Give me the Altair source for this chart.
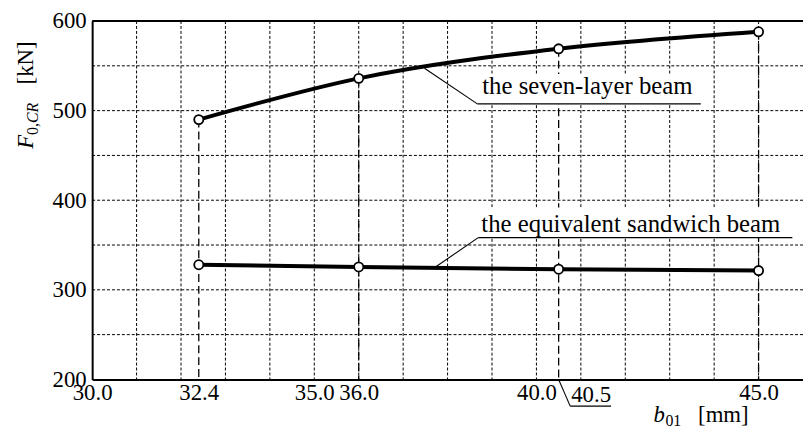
import altair as alt
import pandas as pd

# ---- data ----
b01 = [32.4, 36.0, 40.5, 45.0]
seven_layer = [490, 536, 569, 588]
sandwich = [328, 325.5, 323, 321.5]

x_ticks = [30.0, 32.4, 35.0, 36.0, 40.0, 45.0]
y_ticks = [200, 300, 400, 500, 600]
grid_x = [31, 32, 33, 34, 35, 36, 37, 38, 39, 40, 41, 42, 43, 44, 45]
grid_y = [250, 300, 350, 400, 450, 500, 550]

# annotation labels (data units)
ann_text = ["the seven-layer beam", "the equivalent sandwich beam"]
ann_text_x = [38.78, 38.76]
ann_text_y = [518, 365]
ann_box_x = [38.67, 38.69]
ann_box_x2 = [43.70, 45.76]
ann_box_y = [507.5, 358.3]
ann_box_y2 = [541, 392]
lead_x = [37.48, 37.72]
lead_y = [547.3, 325.2]

XMIN, XMAX, YMIN, YMAX = 30, 46, 200, 600
FONT = "'Liberation Serif', 'Times New Roman', 'DejaVu Serif', serif"

pts = pd.DataFrame({"b01": b01, "seven": seven_layer, "sandwich": sandwich})
long = pd.concat([
    pd.DataFrame({"b01": b01, "F": seven_layer, "beam": "seven"}),
    pd.DataFrame({"b01": b01, "F": sandwich, "beam": "sandwich"}),
])
ann = pd.DataFrame({"text": ann_text, "tx": ann_text_x, "ty": ann_text_y,
                    "bx": ann_box_x, "bx2": ann_box_x2, "by": ann_box_y, "by2": ann_box_y2,
                    "lx": lead_x, "ly": lead_y})

xs = alt.Scale(domain=[XMIN, XMAX], nice=False, zero=False)
ys = alt.Scale(domain=[YMIN, YMAX], nice=False, zero=False)

x_axis = alt.Axis(values=x_ticks, format=".1f", grid=False, ticks=False, tickSize=0,
                  domainWidth=2, domainColor="black", labelFont=FONT, labelFontSize=23,
                  labelColor="black", labelPadding=2, labelFlush=False, labelOverlap=False,
                  title=None)
y_axis = alt.Axis(values=y_ticks, format="d", grid=False, ticks=False, tickSize=0,
                  domainWidth=2, domainColor="black", labelFont=FONT, labelFontSize=23,
                  labelColor="black", labelPadding=6, labelBaseline="middle", title=None)

gx = alt.Chart(pd.DataFrame({"g": grid_x})).mark_rule(
    color="black", strokeWidth=1, strokeDash=[3, 2]).encode(
    x=alt.X("g:Q", scale=xs, axis=x_axis))
gy = alt.Chart(pd.DataFrame({"g": grid_y})).mark_rule(
    color="black", strokeWidth=1, strokeDash=[3, 2]).encode(
    y=alt.Y("g:Q", scale=ys, axis=y_axis))

drops = alt.Chart(pts).mark_rule(color="black", strokeWidth=1.3, strokeDash=[8, 4]).encode(
    x=alt.X("b01:Q", scale=xs), y=alt.Y("seven:Q", scale=ys), y2=alt.datum(YMIN))

boxes = alt.Chart(ann).mark_rect(color="white").encode(
    x=alt.X("bx:Q", scale=xs), x2="bx2:Q", y=alt.Y("by:Q", scale=ys), y2="by2:Q")

underline = alt.Chart(ann).mark_rule(color="black", strokeWidth=1.1).encode(
    x=alt.X("bx:Q", scale=xs), x2="bx2:Q", y=alt.Y("by:Q", scale=ys))
leader = alt.Chart(ann).mark_rule(color="black", strokeWidth=1.1).encode(
    x=alt.X("lx:Q", scale=xs), x2="bx:Q", y=alt.Y("ly:Q", scale=ys), y2="by:Q")
labels = alt.Chart(ann).mark_text(font=FONT, fontSize=25, align="left",
                                  baseline="alphabetic", color="black").encode(
    x=alt.X("tx:Q", scale=xs), y=alt.Y("ty:Q", scale=ys), text="text:N")

line_seven = alt.Chart(long[long.beam == "seven"]).mark_line(
    color="black", strokeWidth=4, interpolate="monotone").encode(
    x=alt.X("b01:Q", scale=xs), y=alt.Y("F:Q", scale=ys))
line_sand = alt.Chart(long[long.beam == "sandwich"]).mark_line(
    color="black", strokeWidth=4).encode(
    x=alt.X("b01:Q", scale=xs), y=alt.Y("F:Q", scale=ys))
points = alt.Chart(long).mark_point(shape="circle", filled=True, fill="white", stroke="black",
                                    strokeWidth=1.8, size=85, opacity=1).encode(
    x=alt.X("b01:Q", scale=xs), y=alt.Y("F:Q", scale=ys))

top_border = alt.Chart(pd.DataFrame({"v": [YMAX]})).mark_rule(color="black", strokeWidth=2.2).encode(
    y=alt.Y("v:Q", scale=ys))

# 40.5 tick label with leader line below the axis
lbl405 = pd.DataFrame({"x": [40.5], "x2": [40.76], "x3": [41.68], "t": ["40.5"]})
lead405 = alt.Chart(lbl405).mark_rule(color="black", strokeWidth=1.1).encode(
    x=alt.X("x:Q", scale=xs), x2="x2:Q", y=alt.value(362), y2=alt.value(389))
under405 = alt.Chart(lbl405).mark_rule(color="black", strokeWidth=1.1).encode(
    x=alt.X("x2:Q", scale=xs), x2="x3:Q", y=alt.value(389))
text405 = alt.Chart(lbl405).mark_text(font=FONT, fontSize=23, align="left", baseline="alphabetic",
                                      color="black", dx=1).encode(
    x=alt.X("x2:Q", scale=xs), y=alt.value(385), text="t:N")

# axis titles built from pieces (subscripts)
def piece(txt, px, py, size=23, style="normal", angle=0):
    return alt.Chart(pd.DataFrame({"t": [txt]})).mark_text(
        font=FONT, fontSize=size, fontStyle=style, align="left", baseline="alphabetic",
        color="black", angle=angle).encode(x=alt.value(px), y=alt.value(py), text="t:N")

ytitle = [
    piece("F", -60, 129, 23, "italic", 270),
    piece("0,", -55, 115, 16, "normal", 270),
    piece("CR", -55, 103, 16, "italic", 270),
    piece("[kN]", -60, 64, 23, "normal", 270),
]
xtitle = [
    piece("b", 567, 405, 23, "italic"),
    piece("01", 579, 409, 16, "normal"),
    piece("[mm]", 612, 405, 23, "normal"),
]

chart = alt.layer(
    gx, gy, drops, boxes, underline, leader, labels, line_seven, line_sand, points,
    top_border, lead405, under405, text405, *ytitle, *xtitle
).properties(
    width=718, height=362,
    autosize="none",
    padding={"left": 85, "top": 11, "right": 0, "bottom": 56},
).configure_view(stroke=None).configure(background="white")

chart.save("out.html", embed_options={"renderer": "svg", "actions": False})
